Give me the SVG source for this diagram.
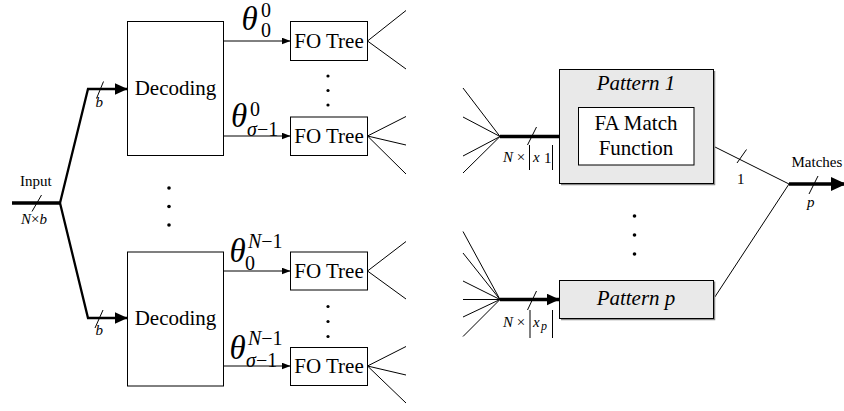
<svg xmlns="http://www.w3.org/2000/svg" width="844" height="411" viewBox="0 0 844 411">
  <style>
    text { font-family: "Liberation Serif", "Times New Roman", serif; fill: #000; }
    .lbl { font-size: 21px; text-anchor: middle; }
    .it { font-style: italic; }
    .sm { font-size: 15px; }
    .th { font-size: 33px; font-style: italic; }
    .sc { font-size: 20px; font-style: normal; }
    .box { fill: #fff; stroke: #000; stroke-width: 1; }
    .gbox { fill: #e9e9e9; stroke: #000; stroke-width: 1; }
    .thin { fill: none; stroke: #000; stroke-width: 1; }
    .mid { fill: none; stroke: #000; stroke-width: 2.3; }
    .thick { fill: none; stroke: #000; stroke-width: 3.6; }
    .dot { fill: #000; }
  </style>
  <defs>
    <marker id="ahThin" markerUnits="userSpaceOnUse" markerWidth="10" markerHeight="8" refX="9" refY="3.5" orient="auto">
      <path d="M0,0 L9,3.5 L0,7 z" fill="#000"/>
    </marker>
    <marker id="ahMid" markerUnits="userSpaceOnUse" markerWidth="14" markerHeight="13" refX="13" refY="6" orient="auto">
      <path d="M0,0 L13,6 L0,12 z" fill="#000"/>
    </marker>
    <marker id="ahBig" markerUnits="userSpaceOnUse" markerWidth="16" markerHeight="15" refX="15" refY="7" orient="auto">
      <path d="M0,0 L15,7 L0,14 z" fill="#000"/>
    </marker>
  </defs>

  <!-- connectors -->
  <g id="connectors">
    <!-- input bus and its split -->
    <path class="thick" d="M12,203 H60"/>
    <path class="mid" d="M60,203 L88,89 H127.5" marker-end="url(#ahMid)"/>
    <path class="mid" d="M60,203 L88,318 H127.5" marker-end="url(#ahMid)"/>
    <!-- bus width marks -->
    <path class="thin" d="M32,211.5 L41.5,195"/>
    <path class="thin" d="M96.5,98.5 L103.5,81.5"/>
    <path class="thin" d="M95,328 L103,310"/>

    <!-- decoder outputs -->
    <path class="thin" d="M223.5,41 H290.5" marker-end="url(#ahThin)"/>
    <path class="thin" d="M223.5,136 H290.5" marker-end="url(#ahThin)"/>
    <path class="thin" d="M223.5,271 H290.5" marker-end="url(#ahThin)"/>
    <path class="thin" d="M223.5,366 H290.5" marker-end="url(#ahThin)"/>

    <!-- fan-out branches -->
    <path class="thin" d="M406,10.5 L367.5,41 L406,69"/>
    <path class="thin" d="M406,116.5 L367.5,136 L406,174 M367.5,136 L406,145"/>
    <path class="thin" d="M406,241.5 L367.5,271 L406,299"/>
    <path class="thin" d="M406,346.5 L367.5,366 L406,403 M367.5,366 L406,375"/>

    <!-- fan-in to pattern 1 -->
    <path class="thin" d="M463,88 L500,136.5 M463,117 L500,136.5 M463,156 L500,136.5 M463,173 L500,136.5"/>
    <path class="thick" d="M500,136.5 H578.5" marker-end="url(#ahBig)"/>
    <path class="thin" d="M527.5,145 L536.5,127"/>

    <!-- fan-in to pattern p -->
    <path class="thin" d="M463,231.5 L500,299.5 M463,253 L500,299.5 M463,281 L500,299.5 M463,299.5 H500 M463,317 L500,299.5 M463,336.5 L500,299.5"/>
    <path class="thick" d="M500,299.5 H559.5" marker-end="url(#ahMid)"/>
    <path class="thin" d="M527.5,310 L536.5,291"/>

    <!-- match outputs -->
    <path class="thin" d="M694,136.5 L789,184 L713.5,299"/>
    <path class="thin" d="M737,163 L746.5,149.5"/>
    <path class="thick" d="M789,184 H846" marker-end="url(#ahBig)"/>
    <path class="thin" d="M809,194 L818,176"/>
  </g>

  <!-- bus labels -->
  <g id="bus-labels">
    <text class="sm" x="20" y="186">Input</text>
    <text class="sm" x="21" y="224"><tspan class="it">N</tspan>×<tspan class="it">b</tspan></text>
    <text class="sm it" x="95.5" y="107">b</text>
    <text class="sm it" x="95.5" y="335">b</text>
  </g>

  <!-- decoder 0 -->
  <g id="decoding-0">
    <rect class="box" x="127.5" y="21.5" width="96" height="134"/>
    <text class="lbl" x="175.5" y="95">Decoding</text>
  </g>
  <!-- decoder N-1 -->
  <g id="decoding-n1">
    <rect class="box" x="127.5" y="252" width="96" height="134"/>
    <text class="lbl" x="175.5" y="325">Decoding</text>
  </g>

  <!-- theta labels: symbol with stacked super/subscripts -->
  <g id="theta-labels">
    <text class="th" x="241.5" y="29.5">θ<tspan class="sc" x="261" y="17">0</tspan><tspan class="sc" x="261" y="37">0</tspan></text>
    <text class="th" x="231" y="127">θ<tspan class="sc" x="250" y="116">0</tspan><tspan class="sc" x="247" y="135.5"><tspan class="it">σ</tspan>−1</tspan></text>
    <text class="th" x="229.5" y="261.5">θ<tspan class="sc" x="248" y="248"><tspan class="it">N</tspan>−1</tspan><tspan class="sc" x="245" y="270">0</tspan></text>
    <text class="th" x="229.5" y="358.5">θ<tspan class="sc" x="248" y="345"><tspan class="it">N</tspan>−1</tspan><tspan class="sc" x="246" y="366.5"><tspan class="it">σ</tspan>−1</tspan></text>
  </g>

  <!-- fan-out trees -->
  <g id="fo-tree-0-0">
    <rect class="box" x="290.5" y="21.5" width="77" height="39"/>
    <text class="lbl" x="329" y="48">FO Tree</text>
  </g>
  <g id="fo-tree-0-s">
    <rect class="box" x="290.5" y="117" width="77" height="38.5"/>
    <text class="lbl" x="329" y="143">FO Tree</text>
  </g>
  <g id="fo-tree-n-0">
    <rect class="box" x="290.5" y="252" width="77" height="38"/>
    <text class="lbl" x="329" y="278">FO Tree</text>
  </g>
  <g id="fo-tree-n-s">
    <rect class="box" x="290.5" y="347.5" width="77" height="38"/>
    <text class="lbl" x="329" y="373">FO Tree</text>
  </g>

  <!-- ellipses -->
  <g id="ellipses">
    <circle class="dot" cx="169" cy="188" r="1.8"/>
    <circle class="dot" cx="169" cy="206.5" r="1.8"/>
    <circle class="dot" cx="169" cy="225" r="1.8"/>
    <circle class="dot" cx="328" cy="76" r="1.6"/>
    <circle class="dot" cx="328" cy="90.5" r="1.6"/>
    <circle class="dot" cx="328" cy="105" r="1.6"/>
    <circle class="dot" cx="328" cy="306.5" r="1.6"/>
    <circle class="dot" cx="328" cy="321.5" r="1.6"/>
    <circle class="dot" cx="328" cy="336.5" r="1.6"/>
    <circle class="dot" cx="634.5" cy="216" r="1.8"/>
    <circle class="dot" cx="634.5" cy="235" r="1.8"/>
    <circle class="dot" cx="634.5" cy="254" r="1.8"/>
  </g>

  <!-- pattern 1 -->
  <g id="pattern-1">
    <path d="M714.5,71 V184.5 H561" fill="none" stroke="#8a8a8a" stroke-width="1.5"/>
    <rect class="gbox" x="559.5" y="69.5" width="154" height="114"/>
    <text class="lbl it" x="636" y="90">Pattern 1</text>
    <rect class="box" x="578.5" y="107.5" width="115.5" height="57.5"/>
    <text class="lbl" x="636" y="130">FA Match</text>
    <text class="lbl" x="636" y="155">Function</text>
  </g>

  <!-- pattern p -->
  <g id="pattern-p">
    <path d="M714.5,281.5 V319.5 H561" fill="none" stroke="#8a8a8a" stroke-width="1.5"/>
    <rect class="gbox" x="559.5" y="280.5" width="154" height="38"/>
    <text class="lbl it" x="636" y="305">Pattern p</text>
  </g>

  <!-- pattern bus labels -->
  <g id="pattern-labels">
    <text class="sm" x="503" y="161.5"><tspan class="it">N</tspan> ×</text>
    <path class="thin" d="M529.5,145 V170 M552.5,145 V170"/>
    <text class="sm it" x="533" y="161.5">x<tspan font-style="normal" x="544" y="163">1</tspan></text>

    <text class="sm" x="503" y="326.5"><tspan class="it">N</tspan> ×</text>
    <path class="thin" d="M530,310 V338 M552.5,310 V338"/>
    <text class="sm it" x="533" y="326.5">x<tspan x="541" y="330" font-size="12">p</tspan></text>

    <text class="sm" x="737" y="183.5">1</text>
    <text class="sm" x="791.5" y="166.5">Matches</text>
    <text class="sm it" x="807" y="207">p</text>
  </g>
</svg>
